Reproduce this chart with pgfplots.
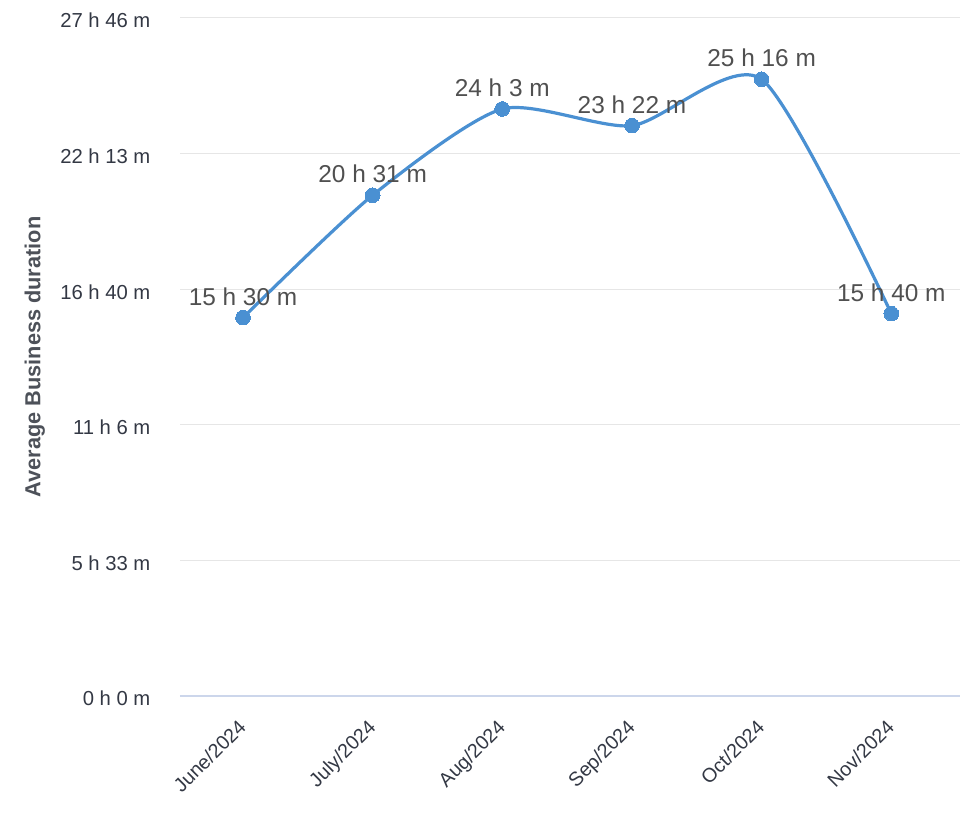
\documentclass[border=0pt]{standalone}
\usepackage{pgfplots}
\pgfplotsset{compat=1.18}
\usepackage{fontspec}
\setmainfont{Liberation Sans}
\definecolor{linec}{HTML}{4A90D2}
\definecolor{gridc}{HTML}{E6E6E6}
\definecolor{basec}{HTML}{CCD6EB}
\definecolor{tickc}{HTML}{333844}
\definecolor{labc}{HTML}{505050}
\definecolor{titc}{HTML}{4D5159}
\begin{document}
\begin{tikzpicture}
\path[use as bounding box] (0,0) rectangle (720pt,622.5pt);
\begin{axis}[
  at={(135pt,100.5pt)}, anchor=south west,
  scale only axis, width=585pt, height=508.5pt,
  xmin=-0.486, xmax=5.53, ymin=0, ymax=100000,
  axis line style={draw=none},
  major tick length=0pt,
  tick style={draw=none},
  xtick={0,1,2,3,4,5},
  xticklabels={June/2024,July/2024,Aug/2024,Sep/2024,Oct/2024,Nov/2024},
  ytick={20000,40000,60000,80000,100000},
  yticklabels={5 h 33 m,11 h 6 m,16 h 40 m,22 h 13 m,27 h 46 m},
  extra y ticks={0},
  extra y tick labels={0 h 0 m},
  extra y tick style={grid style={color=basec, line width=1pt}},
  ymajorgrids,
  grid style={color=gridc, line width=0.75pt},
  scaled y ticks=false,
  y tick label style={font=\fontsize{15.2}{17}\selectfont, color=tickc, anchor=east, inner sep=0pt, xshift=-22pt, yshift=-2pt},
  x tick label style={font=\fontsize{14.8}{17}\selectfont, color=tickc, anchor=north east, inner sep=0pt, xshift=-4.5pt, yshift=-16.5pt, rotate=45},
  ylabel={Average Business duration},
  every axis y label/.style={at={(axis description cs:-0.186,0.5)}, rotate=90, anchor=center, font=\bfseries\fontsize{16.3}{18}\selectfont, color=titc},
  clip=false,
]
\addplot[color=linec, line width=2.4pt, smooth, tension=0.42,
  mark=*, mark size=5.5pt, mark options={solid, fill=linec, draw=linec, line width=0pt},
  point meta=explicit symbolic,
  nodes near coords,
  every node near coord/.append style={font=\fontsize{18.3}{20}\selectfont, color=labc, anchor=center, yshift=15.75pt},
] coordinates {
  (0,55800) [15 h 30 m]
  (1,73860) [20 h 31 m]
  (2,86580) [24 h 3 m]
  (3,84120) [23 h 22 m]
  (4,90960) [25 h 16 m]
  (5,56400) [15 h 40 m]
};
\end{axis}
\end{tikzpicture}
\end{document}
